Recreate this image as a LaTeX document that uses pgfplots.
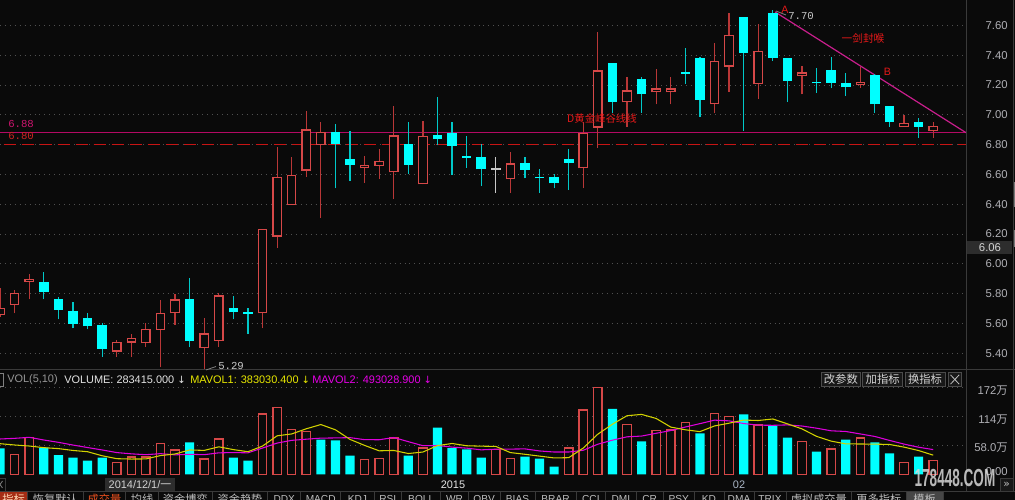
\documentclass[border=0pt]{standalone}
\usepackage{pgfplots}
\pgfplotsset{compat=1.18}
\usepackage{pgfplotstable}
\usepackage{fontspec}
\setmainfont{Liberation Sans}
\newfontfamily\cjk{Noto Sans CJK SC}
\newfontfamily\mono{Liberation Mono}
\newfontfamily\dv{DejaVu Sans}
\newcommand{\fs}[1]{\fontsize{#1}{#1}\selectfont}
\definecolor{bg}{RGB}{10,10,10}
\definecolor{cred}{RGB}{214,72,72}
\definecolor{credw}{RGB}{185,55,55}
\definecolor{ccyan}{RGB}{0,255,255}
\definecolor{ccyanw}{RGB}{0,200,200}
\definecolor{cgray}{RGB}{200,200,200}
\definecolor{gridc}{RGB}{80,80,80}
\definecolor{axc}{RGB}{175,175,180}
\definecolor{lvl}{RGB}{180,10,100}
\definecolor{trend}{RGB}{200,30,140}
\definecolor{dashred}{RGB}{200,20,20}
\definecolor{ma5}{RGB}{210,210,0}
\definecolor{ma10}{RGB}{220,0,220}
\definecolor{annot}{RGB}{230,25,25}
\definecolor{sep}{RGB}{58,58,58}
\definecolor{boxc}{RGB}{45,45,45}
\definecolor{txtl}{RGB}{210,210,210}
\definecolor{txtm}{RGB}{190,190,190}
\definecolor{txtd}{RGB}{150,150,150}
\definecolor{lblpink}{RGB}{205,20,110}
\definecolor{lblred}{RGB}{205,35,35}
\definecolor{hdrw}{RGB}{228,228,228}
\definecolor{hdry}{RGB}{232,232,0}
\definecolor{hdrm}{RGB}{232,0,232}
\definecolor{btnb}{RGB}{75,75,75}
\definecolor{btnf}{RGB}{24,24,24}
\definecolor{bluegray}{RGB}{170,182,198}
\definecolor{tabred}{RGB}{165,45,20}
\definecolor{tabredt}{RGB}{255,215,180}
\definecolor{tabgray}{RGB}{70,70,70}
\definecolor{volt}{RGB}{235,80,30}
\definecolor{scrl}{RGB}{120,120,120}
\definecolor{wm}{RGB}{215,215,215}

\pgfplotstableread{
i o h l c
0 5.657 5.836 5.646 5.702
1 5.724 5.825 5.668 5.803
2 5.878 5.932 5.762 5.900
8 5.411 5.490 5.378 5.474
9 5.472 5.528 5.378 5.501
10 5.467 5.606 5.445 5.561
11 5.557 5.758 5.305 5.673
12 5.668 5.796 5.590 5.762
14 5.434 5.635 5.290 5.534
15 5.483 5.803 5.445 5.789
18 5.668 6.234 5.568 6.234
19 6.183 6.786 6.109 6.585
20 6.395 6.719 6.395 6.596
21 6.625 7.025 6.585 6.902
22 6.797 6.954 6.310 6.887
25 6.641 6.724 6.545 6.663
26 6.657 6.768 6.569 6.692
27 6.614 7.059 6.435 6.862
29 6.534 6.956 6.534 6.856
35 6.569 6.750 6.478 6.674
40 6.641 6.954 6.507 6.876
41 6.914 7.558 6.780 7.298
43 7.084 7.256 6.920 7.164
45 7.151 7.307 7.070 7.177
46 7.151 7.256 7.070 7.177
49 7.070 7.479 7.010 7.359
50 7.323 7.685 7.155 7.535
52 7.204 7.609 7.106 7.426
55 7.261 7.327 7.137 7.284
59 7.197 7.323 7.182 7.220
62 6.920 6.998 6.920 6.947
64 6.891 6.949 6.847 6.925
}\redc

\pgfplotstableread{
i o h l c
3 5.876 5.946 5.762 5.809
4 5.765 5.780 5.628 5.691
5 5.684 5.744 5.568 5.599
6 5.635 5.668 5.561 5.581
7 5.590 5.606 5.378 5.429
13 5.765 5.903 5.440 5.485
16 5.702 5.787 5.628 5.675
17 5.677 5.702 5.530 5.665
23 6.882 6.938 6.507 6.804
24 6.706 6.891 6.556 6.665
28 6.802 6.949 6.603 6.665
30 6.862 7.119 6.795 6.835
31 6.878 6.949 6.596 6.791
32 6.721 6.858 6.645 6.709
33 6.719 6.804 6.525 6.634
36 6.674 6.719 6.574 6.630
37 6.586 6.636 6.478 6.574
38 6.585 6.605 6.507 6.540
39 6.706 6.768 6.496 6.679
42 7.347 7.347 7.014 7.088
44 7.242 7.256 7.014 7.137
47 7.288 7.446 7.207 7.274
48 7.379 7.385 6.987 7.099
51 7.658 7.658 6.894 7.417
53 7.685 7.700 7.361 7.379
54 7.379 7.379 7.088 7.229
56 7.222 7.316 7.148 7.210
57 7.300 7.390 7.177 7.215
58 7.215 7.278 7.126 7.184
60 7.267 7.274 7.014 7.070
61 7.059 7.059 6.920 6.949
63 6.954 6.981 6.847 6.920
}\cyanc

\pgfplotstableread{
i o h l c
34 6.640 6.719 6.478 6.628
}\grayc

\pgfplotstableread{
i v
0 51.8
3 53.1
4 38.6
5 33.3
6 27.4
7 33.3
13 63.7
16 33.3
17 27.4
22 68.9
23 67.7
24 37.2
28 37.2
30 92.7
31 52.4
32 49.8
33 33.3
36 35.3
37 31.3
38 15.5
42 129.7
44 65.7
48 81.5
51 119.2
53 96.7
54 72.9
56 45.2
58 69.0
60 63.6
61 41.9
63 35.3
}\volc

\pgfplotstableread{
i v
1 40.0
2 72.9
8 24.1
9 34.6
10 34.6
11 61.0
12 48.6
14 30.7
15 70.3
18 119.8
19 132.3
20 88.7
21 84.7
25 29.3
26 31.3
27 72.3
29 52.4
34 49.8
35 32.0
39 52.4
40 127.7
41 172.7
43 99.3
45 86.8
46 88.1
47 102.6
49 121.1
50 114.5
52 98.0
55 65.0
57 50.5
59 72.3
62 24.1
64 28.3
}\volr

\pgfplotstableread{
i m5 m10
0 61.0 70.3
1 58.4 71.6
2 56.4 73.6
3 53.1 68.3
4 51.3 63.7
5 47.6 58.3
6 45.1 53.4
7 37.1 48.6
8 31.3 43.4
9 30.6 40.9
10 30.8 39.2
11 37.5 41.3
12 40.6 38.9
13 48.6 40.0
14 47.7 39.2
15 54.8 42.9
16 49.3 43.4
17 45.1 42.9
18 56.3 52.4
19 76.6 62.2
20 80.3 67.6
21 90.5 69.9
22 98.9 72.0
23 88.5 72.4
24 69.5 73.0
25 57.6 69.0
26 46.9 68.8
27 47.6 73.2
28 41.5 65.0
29 44.5 57.0
30 57.2 57.4
31 61.4 54.2
32 56.9 52.2
33 56.1 48.8
34 55.6 50.1
35 43.4 50.3
36 40.0 50.7
37 36.4 46.6
38 32.8 44.5
39 33.3 44.5
40 52.4 48.0
41 79.9 60.0
42 99.6 68.0
43 116.4 74.6
44 119.0 76.1
45 110.9 81.6
46 93.9 87.0
47 88.5 94.0
48 84.9 100.7
49 96.1 107.6
50 101.6 106.2
51 107.8 100.9
52 106.9 97.7
53 109.9 97.4
54 100.3 98.2
55 90.3 96.0
56 75.5 91.7
57 66.1 86.5
58 60.6 85.2
59 60.4 80.3
60 60.1 75.3
61 59.5 67.5
62 54.2 60.2
63 47.4 54.0
64 38.3 49.3
}\ma

\pgfplotsset{
  candle/.style args={#1/#2}{draw=none, mark=none, forget plot,
    error bars/.cd, y dir=plus, y explicit, error mark=none,
    error bar style={draw=#1, line width=#2}},
}

\begin{document}
\begin{tikzpicture}
\useasboundingbox (0,0) rectangle (761.25pt,375pt);
\fill[bg] (0,0) rectangle (761.25pt,375pt);

% ---------------- price panel ----------------
\begin{axis}[
  at={(0pt,97.5pt)}, anchor=south west, scale only axis,
  width=724.5pt, height=277.5pt,
  xmin=-0.007, xmax=66.25, ymin=5.288, ymax=7.770,
  axis line style={draw=none}, tick style={draw=none},
  xtick=\empty,
  ytick={5.4,5.6,5.8,6.0,6.2,6.4,6.6,6.8,7.0,7.2,7.4,7.6},
  yticklabels={5.40,5.60,5.80,6.00,6.20,6.40,6.60,6.80,7.00,7.20,7.40,7.60},
  yticklabel pos=right,
  yticklabel style={anchor=east, inner sep=0pt, xshift=31.5pt, font=\fs{8.5}, text=axc},
  ymajorgrids,
  grid style={draw=gridc, line width=0.7pt, dash pattern=on 0.7pt off 3pt},
]
\addplot[lvl, line width=1pt, mark=none] coordinates {(-1,6.88) (66.25,6.88)};
\addplot[dashred, line width=0.8pt, mark=none, dash pattern=on 9pt off 4.5pt] coordinates {(-1,6.80) (66.25,6.80)};
\addplot[trend, line width=0.9pt, mark=none] coordinates {(53.15,7.69) (66.25,6.88)};
\addplot[candle={credw/0.9pt}] table[x=i, y=l, y error expr=\thisrow{h}-\thisrow{l}] {\redc};
\addplot[candle={ccyanw/0.9pt}] table[x=i, y=l, y error expr=\thisrow{h}-\thisrow{l}] {\cyanc};
\addplot[candle={cgray/0.9pt}] table[x=i, y=l, y error expr=\thisrow{h}-\thisrow{l}] {\grayc};
\addplot[candle={ccyan/7.2pt}] table[x=i, y=c, y error expr=\thisrow{o}-\thisrow{c}] {\cyanc};
\addplot[candle={cgray/7.2pt}] table[x=i, y=c, y error expr=\thisrow{o}-\thisrow{c}] {\grayc};
\addplot[candle={cred/7.2pt}] table[x=i, y=o, y error expr=\thisrow{c}-\thisrow{o}] {\redc};
\addplot[candle={bg/5.4pt}] table[x=i, y expr=\thisrow{o}+0.008, y error expr=\thisrow{c}-\thisrow{o}-0.016] {\redc};
\end{axis}

% ---------------- volume panel ----------------
\begin{axis}[
  at={(0pt,17.25pt)}, anchor=south west, scale only axis,
  width=724.5pt, height=80.25pt,
  xmin=-0.007, xmax=66.25, ymin=-4.95, ymax=206.9,
  axis line style={draw=none}, tick style={draw=none},
  xtick=\empty,
  ytick={58,114,172},
  yticklabels={58.0{\cjk 万},114{\cjk 万},172{\cjk 万}},
  extra y ticks={10.9}, extra y tick labels={0.00},
  extra y tick style={grid=none},
  yticklabel pos=right,
  yticklabel style={anchor=east, inner sep=0pt, xshift=31.5pt, yshift=-2pt, font=\fs{8.5}, text=axc},
  ymajorgrids,
  grid style={draw=gridc, line width=0.7pt, dash pattern=on 0.7pt off 3pt},
]
\addplot[ybar, bar width=6.9pt, bar shift=0pt, fill=ccyan, draw=none, forget plot] table[x=i, y=v] {\volc};
\addplot[ybar, bar width=6.3pt, bar shift=0pt, fill=bg, draw=cred, line width=0.9pt, forget plot] table[x=i, y=v] {\volr};
\addplot[ma10, line width=0.8pt, mark=none] table[x=i, y=m10] {\ma};
\addplot[ma5, line width=0.8pt, mark=none] table[x=i, y=m5] {\ma};
\end{axis}

% ---------------- decorations in pixel coordinates ----------------
\begin{scope}[shift={(0pt,375pt)}, x=0.75pt, y=-0.75pt]
\draw[sep, line width=0.75pt] (966.3,0) -- (966.3,491);
\draw[sep, line width=0.75pt] (1013,0) -- (1013,491);
\draw[sep, line width=0.75pt] (0,370) -- (1015,370);
\fill[scrl] (1013.5,182) rectangle (1015,207);
\fill[scrl] (1013.5,230) rectangle (1015,247);
\fill[boxc] (966.7,241) rectangle (1011.7,254.3);
\node[text=txtl, font=\fs{8.5}, inner sep=0pt] at (990,247.7) {6.06};
\node[anchor=west, inner sep=0pt, text=lblpink, font=\mono\fs{8}] at (8,123.5) {6.88};
\node[anchor=west, inner sep=0pt, text=lblred, font=\mono\fs{8}] at (8,136.2) {6.80};
\draw[gray, line width=0.6pt] (206,370) -- (216,366.5);
\node[anchor=west, inner sep=0pt, text=cgray, font=\mono\fs{8}] at (218,366) {5.29};
\draw[gray, line width=0.6pt] (776,11) -- (786,15);
\node[anchor=west, inner sep=0pt, text=cgray, font=\mono\fs{8}] at (788,16) {7.70};
\node[text=annot, inner sep=0pt, font=\fs{8}] at (785,9.5) {A};
\node[text=annot, inner sep=0pt, font=\fs{8}] at (887.5,71.5) {B};
\node[text=annot, inner sep=0pt, font=\cjk\fs{8}] at (863,38.5) {一剑封喉};
\node[text=annot, inner sep=0pt, font=\cjk\fs{7.8}] at (602,118.5) {D黄金峰谷线线};
\draw[gray, line width=0.5pt] (-4,373) rectangle (3.5,386);
\node[anchor=west, inner sep=0pt, text=txtd, font=\fs{8.2}] at (7,379.3) {VOL(5,10)};
\node[anchor=west, inner sep=0pt, text=hdrw, font=\fs{8.2}] at (64,379.3) {VOLUME: 283415.000 {\dv\fs{7.5}↓}};
\node[anchor=west, inner sep=0pt, text=hdry, font=\fs{8.2}] at (190,379.3) {MAVOL1: 383030.400 {\dv\fs{7.5}↓}};
\node[anchor=west, inner sep=0pt, text=hdrm, font=\fs{8.2}] at (312,379.3) {MAVOL2: 493028.900 {\dv\fs{7.5}↓}};
\foreach \a/\b/\t in {821.7/860/改参数, 862.7/902.7/加指标, 905/945/换指标}{
  \draw[draw=btnb, fill=btnf, line width=0.6pt] (\a,372.3) rectangle (\b,386.7);
  \node[text=txtl, inner sep=0pt, font=\cjk\fs{8.5}] at ({(\a+\b)/2},379.5) {\t};
}
\draw[draw=btnb, fill=btnf, line width=0.6pt] (948,372.3) rectangle (961.7,386.7);
\draw[txtm, line width=0.6pt] (950.5,374.8) -- (959.2,384.2) (950.5,384.2) -- (959.2,374.8);
\fill[boxc] (105,477.7) rectangle (175,491.3);
\node[text=txtl, inner sep=0pt, font=\fs{8.2}] at (140,484.6) {2014/12/1/{\cjk 一}};
\node[text=hdrw, inner sep=0pt, font=\fs{8.2}] at (453,484.3) {2015};
\node[text=bluegray, inner sep=0pt, font=\fs{8.2}] at (739,484.3) {02};
\draw[sep, line width=0.6pt] (-3,478) rectangle (5,491);
\draw[gray, line width=0.6pt] (2.5,481) -- (0,484.5) -- (2.5,488);
\draw[draw=sep, fill=btnf, line width=0.6pt] (1000.5,478) rectangle (1013,491);
\node[text=txtm, inner sep=0pt, font=\dv\fs{8}] at (1006.7,484.5) {»};
\node[text=wm, opacity=0.85, inner sep=0pt, xscale=0.55, font=\bfseries\fs{18.5}] at (955,478.5) {178448.COM};
\draw[sep, line width=0.75pt] (0,491.6) -- (1015,491.6);
\fill[tabred] (0,492) rectangle (27.3,500);
\fill[tabgray] (906,492) rectangle (943.3,500);
\foreach \s in {27.3,83.3,125.7,158.3,212.3,267.7,300.7,340.7,374,401.7,440.7,468.3,500,535,576,605.7,636,663.3,694,724,754,786,851.7,906,943.3}{
  \draw[sep, line width=0.6pt] (\s,492) -- (\s,500);
}
\node[text=tabredt, inner sep=0pt, font=\cjk\fs{8.4}] at (13.6,499.5) {指标};
\node[text=volt, inner sep=0pt, font=\cjk\fs{8.4}] at (104.5,499.5) {成交量};
\foreach \a/\b/\t in {27.3/83.3/恢复默认, 125.7/158.3/均线, 158.3/212.3/资金博弈, 212.3/267.7/资金趋势, 786/851.7/虚拟成交量, 851.7/906/更多指标, 906/943.3/模板}{
  \node[text=txtm, inner sep=0pt, font=\cjk\fs{8.4}] at ({(\a+\b)/2},499.5) {\t};
}
\foreach \a/\b/\t in {267.7/300.7/DDX, 300.7/340.7/MACD, 340.7/374/KDJ, 374/401.7/RSI, 401.7/440.7/BOLL, 440.7/468.3/WR, 468.3/500/OBV, 500/535/BIAS, 535/576/BRAR, 576/605.7/CCI, 605.7/636/DMI, 636/663.3/CR, 663.3/694/PSY, 694/724/KD, 724/754/DMA, 754/786/TRIX}{
  \node[text=txtm, inner sep=0pt, font=\fs{7.6}] at ({(\a+\b)/2},499.3) {\t};
}
\end{scope}
\end{tikzpicture}
\end{document}
